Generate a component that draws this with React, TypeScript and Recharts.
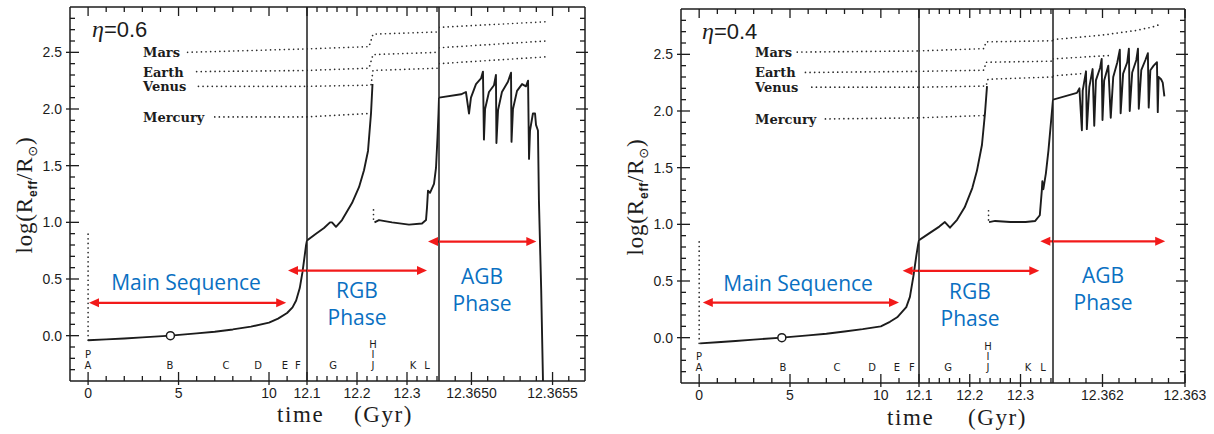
import React from 'react';
import { ComposedChart, Line, XAxis, YAxis, ReferenceLine, ReferenceDot } from 'recharts';

type P = { t: number; r: number };

// ---------------- shared axes ----------------
const Y_DOMAIN: [number, number] = [-0.4, 2.9];
const Y_TICKS = [-0.3, -0.2, -0.1, 0, 0.1, 0.2, 0.3, 0.4, 0.5, 0.6, 0.7, 0.8, 0.9, 1, 1.1, 1.2, 1.3, 1.4, 1.5, 1.6, 1.7, 1.8, 1.9, 2, 2.1, 2.2, 2.3, 2.4, 2.5, 2.6, 2.7, 2.8];
const Y_MAJOR = [0, 0.5, 1, 1.5, 2, 2.5];

const MS_DOMAIN: [number, number] = [-1, 12.1];
const MS_TICKS = [0, 1, 2, 3, 4, 5, 6, 7, 8, 9, 10, 11];
const MS_MAJOR = [0, 5, 10];

const RGB_DOMAIN: [number, number] = [12.1, 12.364];
const RGB_TICKS = [12.1, 12.12, 12.14, 12.16, 12.18, 12.2, 12.22, 12.24, 12.26, 12.28, 12.3, 12.32, 12.34, 12.36];
const RGB_MAJOR = [12.1, 12.2, 12.3];

const AGB06_DOMAIN: [number, number] = [12.3648, 12.3657];
const AGB06_TICKS = [12.3649, 12.365, 12.3651, 12.3652, 12.3653, 12.3654, 12.3655, 12.3656];
const AGB06_MAJOR = [12.365, 12.3655];

const AGB04_DOMAIN: [number, number] = [12.3614, 12.363];
const AGB04_TICKS = [12.3616, 12.3618, 12.362, 12.3622, 12.3624, 12.3626, 12.3628, 12.363];
const AGB04_MAJOR = [12.362, 12.363];

// ---------------- η = 0.6 panel ----------------
const MS_06: P[] = [
  { t: 0, r: -0.04 }, { t: 1, r: -0.033 }, { t: 2, r: -0.025 }, { t: 3, r: -0.015 }, { t: 4.55, r: 0 },
  { t: 6, r: 0.02 }, { t: 7, r: 0.035 }, { t: 8, r: 0.055 }, { t: 9, r: 0.08 }, { t: 10, r: 0.115 },
  { t: 10.5, r: 0.15 }, { t: 11, r: 0.2 }, { t: 11.3, r: 0.25 }, { t: 11.5, r: 0.31 }, { t: 11.7, r: 0.42 },
  { t: 11.85, r: 0.56 }, { t: 11.95, r: 0.68 }, { t: 12.05, r: 0.8 }, { t: 12.1, r: 0.84 },
];
const PREMS_06: P[] = [{ t: 0, r: -0.04 }, { t: 0, r: 0.9 }];
const RGB_RISE_06: P[] = [
  { t: 12.1, r: 0.84 }, { t: 12.118, r: 0.9 }, { t: 12.134, r: 0.95 }, { t: 12.146, r: 1.0 }, { t: 12.15, r: 1.0 },
  { t: 12.158, r: 0.96 }, { t: 12.17, r: 1.02 }, { t: 12.19, r: 1.17 }, { t: 12.204, r: 1.31 }, { t: 12.214, r: 1.46 },
  { t: 12.222, r: 1.63 }, { t: 12.228, r: 1.96 }, { t: 12.231, r: 2.22 },
];
const RGB_GAP_06: P[] = [{ t: 12.233, r: 1.11 }, { t: 12.233, r: 0.99 }];
const RGB_HB_06: P[] = [
  { t: 12.235, r: 1.0 }, { t: 12.244, r: 1.02 }, { t: 12.27, r: 1.0 }, { t: 12.304, r: 0.98 }, { t: 12.33, r: 0.99 },
  { t: 12.338, r: 1.02 }, { t: 12.34, r: 1.13 }, { t: 12.342, r: 1.28 }, { t: 12.346, r: 1.26 }, { t: 12.354, r: 1.34 },
  { t: 12.358, r: 1.48 }, { t: 12.361, r: 1.75 }, { t: 12.363, r: 1.96 }, { t: 12.364, r: 2.1 },
];
const AGB_06: P[] = [
  { t: 12.3648, r: 2.1 }, { t: 12.364936, r: 2.13 }, { t: 12.364966, r: 2.15 }, { t: 12.364985, r: 1.96 },
  { t: 12.364997, r: 2.1 }, { t: 12.365028, r: 2.22 }, { t: 12.365059, r: 2.27 }, { t: 12.365071, r: 2.33 },
  { t: 12.365077, r: 1.73 }, { t: 12.365084, r: 2.0 }, { t: 12.365108, r: 2.15 }, { t: 12.365139, r: 2.21 },
  { t: 12.365151, r: 2.3 }, { t: 12.365154, r: 1.7 }, { t: 12.365164, r: 1.99 }, { t: 12.365188, r: 2.15 },
  { t: 12.365225, r: 2.24 }, { t: 12.365244, r: 2.32 }, { t: 12.365247, r: 1.71 }, { t: 12.365256, r: 2.0 },
  { t: 12.365281, r: 2.16 }, { t: 12.365312, r: 2.22 }, { t: 12.365336, r: 2.2 }, { t: 12.365349, r: 2.25 },
  { t: 12.365355, r: 1.56 }, { t: 12.365361, r: 1.81 }, { t: 12.365379, r: 1.96 }, { t: 12.365392, r: 1.96 },
  { t: 12.365398, r: 1.86 }, { t: 12.36541, r: 1.81 }, { t: 12.365416, r: 1.19 }, { t: 12.36543, r: 0.4 },
  { t: 12.365441, r: -0.4 },
];
const MARS_06 = {
  ms: [{ t: 5.5, r: 2.5 }, { t: 12.1, r: 2.53 }],
  rgb: [{ t: 12.1, r: 2.53 }, { t: 12.224, r: 2.55 }, { t: 12.232, r: 2.66 }, { t: 12.364, r: 2.68 }],
  agb: [{ t: 12.3648, r: 2.72 }, { t: 12.36546, r: 2.77 }],
};
const EARTH_06 = {
  ms: [{ t: 6.0, r: 2.33 }, { t: 12.1, r: 2.34 }],
  rgb: [{ t: 12.1, r: 2.34 }, { t: 12.224, r: 2.36 }, { t: 12.232, r: 2.48 }, { t: 12.364, r: 2.5 }],
  agb: [{ t: 12.3648, r: 2.54 }, { t: 12.36546, r: 2.6 }],
};
const VENUS_06 = {
  ms: [{ t: 6.1, r: 2.2 }, { t: 12.1, r: 2.2 }],
  rgb: [{ t: 12.1, r: 2.2 }, { t: 12.228, r: 2.21 }, { t: 12.232, r: 2.34 }, { t: 12.364, r: 2.36 }],
  agb: [{ t: 12.3648, r: 2.4 }, { t: 12.36546, r: 2.46 }],
};
const MERCURY_06 = {
  ms: [{ t: 7.0, r: 1.93 }, { t: 12.1, r: 1.93 }],
  rgb: [{ t: 12.1, r: 1.93 }, { t: 12.224, r: 1.96 }],
  agb: [] as P[],
};
const LETTERS_06 = [
  { seg: 'ms', t: 0, r: -0.195, c: 'P' }, { seg: 'ms', t: 0, r: -0.29, c: 'A' }, { seg: 'ms', t: 4.5, r: -0.29, c: 'B' },
  { seg: 'ms', t: 7.6, r: -0.29, c: 'C' }, { seg: 'ms', t: 9.4, r: -0.29, c: 'D' }, { seg: 'ms', t: 10.9, r: -0.29, c: 'E' },
  { seg: 'ms', t: 11.6, r: -0.29, c: 'F' }, { seg: 'rgb', t: 12.152, r: -0.29, c: 'G' }, { seg: 'rgb', t: 12.232, r: -0.105, c: 'H' },
  { seg: 'rgb', t: 12.232, r: -0.195, c: 'I' }, { seg: 'rgb', t: 12.232, r: -0.29, c: 'J' }, { seg: 'rgb', t: 12.312, r: -0.29, c: 'K' },
  { seg: 'rgb', t: 12.341, r: -0.29, c: 'L' },
];
const PHASES_06 = [
  { seg: 'ms', t: 5.41, r: 0.4, text: 'Main Sequence' },
  { seg: 'rgb', t: 12.2, r: 0.33, text: 'RGB' }, { seg: 'rgb', t: 12.2, r: 0.09, text: 'Phase' },
  { seg: 'agb', t: 12.365065, r: 0.46, text: 'AGB' }, { seg: 'agb', t: 12.365065, r: 0.22, text: 'Phase' },
];
const ARROWS_06 = [
  { seg: 'ms', from: 0.05, to: 10.95, r: 0.29, heads: 'both' },
  { seg: 'ms', from: 11.05, to: 12.1, r: 0.574, heads: 'start' },
  { seg: 'rgb', from: 12.1, to: 12.34, r: 0.574, heads: 'end' },
  { seg: 'rgb', from: 12.342, to: 12.364, r: 0.83, heads: 'start' },
  { seg: 'agb', from: 12.3648, to: 12.3654, r: 0.83, heads: 'end' },
];

// ---------------- η = 0.4 panel ----------------
const MS_04: P[] = [
  { t: 0.05, r: -0.05 }, { t: 1, r: -0.04 }, { t: 2, r: -0.03 }, { t: 3, r: -0.017 }, { t: 4.55, r: 0 },
  { t: 6, r: 0.02 }, { t: 7, r: 0.035 }, { t: 8, r: 0.055 }, { t: 9, r: 0.075 }, { t: 10, r: 0.1 },
  { t: 10.5, r: 0.14 }, { t: 10.9, r: 0.18 }, { t: 11.4, r: 0.27 }, { t: 11.6, r: 0.36 }, { t: 11.8, r: 0.55 },
  { t: 11.95, r: 0.72 }, { t: 12.05, r: 0.82 }, { t: 12.1, r: 0.86 },
];
const PREMS_04: P[] = [{ t: 0, r: -0.05 }, { t: 0, r: 0.88 }];
const RGB_RISE_04: P[] = [
  { t: 12.1, r: 0.86 }, { t: 12.12, r: 0.92 }, { t: 12.14, r: 0.98 }, { t: 12.151, r: 1.02 }, { t: 12.161, r: 0.97 },
  { t: 12.175, r: 1.04 }, { t: 12.19, r: 1.15 }, { t: 12.205, r: 1.32 }, { t: 12.214, r: 1.47 }, { t: 12.224, r: 1.7 },
  { t: 12.23, r: 1.98 }, { t: 12.234, r: 2.22 },
];
const RGB_GAP_04: P[] = [{ t: 12.237, r: 1.12 }, { t: 12.237, r: 1.0 }];
const RGB_HB_04: P[] = [
  { t: 12.238, r: 1.02 }, { t: 12.25, r: 1.03 }, { t: 12.28, r: 1.02 }, { t: 12.31, r: 1.02 }, { t: 12.329, r: 1.03 },
  { t: 12.338, r: 1.08 }, { t: 12.342, r: 1.3 }, { t: 12.343, r: 1.38 }, { t: 12.345, r: 1.31 }, { t: 12.35, r: 1.45 },
  { t: 12.355, r: 1.65 }, { t: 12.36, r: 1.9 }, { t: 12.364, r: 2.1 },
];
const AGB_04: P[] = [
  { t: 12.3614, r: 2.1 }, { t: 12.36169, r: 2.16 }, { t: 12.36172, r: 2.2 }, { t: 12.36175, r: 1.83 },
  { t: 12.36176, r: 2.18 }, { t: 12.3618, r: 2.35 }, { t: 12.36181, r: 1.84 }, { t: 12.36184, r: 2.21 },
  { t: 12.36188, r: 2.37 }, { t: 12.3619, r: 1.87 }, { t: 12.36192, r: 2.27 }, { t: 12.36197, r: 2.38 },
  { t: 12.36199, r: 2.46 }, { t: 12.362, r: 1.92 }, { t: 12.36202, r: 2.27 }, { t: 12.36207, r: 2.4 },
  { t: 12.3621, r: 1.94 }, { t: 12.36213, r: 2.3 }, { t: 12.36218, r: 2.43 }, { t: 12.36221, r: 2.54 },
  { t: 12.36222, r: 1.98 }, { t: 12.36225, r: 2.33 }, { t: 12.3623, r: 2.43 }, { t: 12.36232, r: 2.55 },
  { t: 12.36233, r: 2.0 }, { t: 12.36236, r: 2.34 }, { t: 12.36241, r: 2.45 }, { t: 12.36243, r: 2.55 },
  { t: 12.36244, r: 2.02 }, { t: 12.36247, r: 2.36 }, { t: 12.36252, r: 2.45 }, { t: 12.36255, r: 2.51 },
  { t: 12.36256, r: 2.03 }, { t: 12.36258, r: 2.36 }, { t: 12.36262, r: 2.4 }, { t: 12.36266, r: 2.43 },
  { t: 12.36267, r: 1.99 }, { t: 12.36268, r: 2.3 }, { t: 12.36271, r: 2.28 }, { t: 12.36273, r: 2.25 },
  { t: 12.36275, r: 2.13 },
];
const MARS_04 = {
  ms: [{ t: 5.4, r: 2.52 }, { t: 12.1, r: 2.53 }],
  rgb: [{ t: 12.1, r: 2.53 }, { t: 12.228, r: 2.55 }, { t: 12.232, r: 2.61 }, { t: 12.364, r: 2.62 }],
  agb: [{ t: 12.3614, r: 2.63 }, { t: 12.362, r: 2.67 }, { t: 12.3624, r: 2.71 }, { t: 12.3626, r: 2.74 }, { t: 12.36272, r: 2.77 }],
};
const EARTH_04 = {
  ms: [{ t: 5.85, r: 2.34 }, { t: 12.1, r: 2.35 }],
  rgb: [{ t: 12.1, r: 2.35 }, { t: 12.228, r: 2.36 }, { t: 12.232, r: 2.43 }, { t: 12.364, r: 2.44 }],
  agb: [{ t: 12.3614, r: 2.46 }, { t: 12.3621, r: 2.49 }],
};
const VENUS_04 = {
  ms: [{ t: 6.2, r: 2.21 }, { t: 12.1, r: 2.21 }],
  rgb: [{ t: 12.1, r: 2.21 }, { t: 12.232, r: 2.22 }, { t: 12.236, r: 2.28 }, { t: 12.364, r: 2.3 }],
  agb: [{ t: 12.3614, r: 2.31 }, { t: 12.36176, r: 2.33 }],
};
const MERCURY_04 = {
  ms: [{ t: 6.95, r: 1.93 }, { t: 12.1, r: 1.94 }],
  rgb: [{ t: 12.1, r: 1.94 }, { t: 12.23, r: 1.96 }],
  agb: [] as P[],
};
const LETTERS_04 = [
  { seg: 'ms', t: 0, r: -0.195, c: 'P' }, { seg: 'ms', t: 0, r: -0.29, c: 'A' }, { seg: 'ms', t: 4.6, r: -0.29, c: 'B' },
  { seg: 'ms', t: 7.6, r: -0.29, c: 'C' }, { seg: 'ms', t: 9.5, r: -0.29, c: 'D' }, { seg: 'ms', t: 10.9, r: -0.29, c: 'E' },
  { seg: 'ms', t: 11.7, r: -0.29, c: 'F' }, { seg: 'rgb', t: 12.157, r: -0.29, c: 'G' }, { seg: 'rgb', t: 12.236, r: -0.105, c: 'H' },
  { seg: 'rgb', t: 12.236, r: -0.195, c: 'I' }, { seg: 'rgb', t: 12.236, r: -0.29, c: 'J' }, { seg: 'rgb', t: 12.315, r: -0.29, c: 'K' },
  { seg: 'rgb', t: 12.345, r: -0.29, c: 'L' },
];
const PHASES_04 = [
  { seg: 'ms', t: 5.44, r: 0.415, text: 'Main Sequence' },
  { seg: 'rgb', t: 12.2, r: 0.34, text: 'RGB' }, { seg: 'rgb', t: 12.2, r: 0.1, text: 'Phase' },
  { seg: 'agb', t: 12.362, r: 0.48, text: 'AGB' }, { seg: 'agb', t: 12.362, r: 0.24, text: 'Phase' },
];
const ARROWS_04 = [
  { seg: 'ms', from: 0.2, to: 11.0, r: 0.31, heads: 'both' },
  { seg: 'ms', from: 11.2, to: 12.1, r: 0.59, heads: 'start' },
  { seg: 'rgb', from: 12.1, to: 12.337, r: 0.59, heads: 'end' },
  { seg: 'rgb', from: 12.339, to: 12.364, r: 0.85, heads: 'start' },
  { seg: 'agb', from: 12.3614, to: 12.36276, r: 0.85, heads: 'end' },
];

const PLANET_NAMES = ['Mars', 'Earth', 'Venus', 'Mercury'];
const SUN: P = { t: 4.55, r: 0 };

// ---------------- styling ----------------
const H = 434;
const INK = '#1c1c1c';
const RED = '#f21a1a';
const BLUE = '#0a70c2';
const TICK_FONT = '"Liberation Sans", Arial, sans-serif';
const SERIF = '"Liberation Serif", "Times New Roman", serif';
const FRAME = { stroke: INK, strokeWidth: 1.5 };
const PL = 70;
const PR = 40;
const BOT_H = 30;
const TOP_H = 4;
const LEFT_W = 40;
const RIGHT_W = 10;

const near = (a: number, list: number[]) => list.some((m) => Math.abs(m - a) < 1e-7);

function bottomTick(major: number[], fmt: (v: number) => string) {
  return (p: any) => {
    const v = Number(p.payload?.value);
    const big = near(v, major);
    return (
      <g>
        <line x1={p.x} x2={p.x} y1={p.y + (big ? 4 : 0)} y2={p.y - (big ? 9 : 5)} stroke={INK} strokeWidth={1.3} />
        {big ? (
          <text x={p.x} y={p.y + 17} textAnchor="middle" fontFamily={TICK_FONT} fontSize={14} fill={INK}>
            {fmt(v)}
          </text>
        ) : null}
      </g>
    );
  };
}
function topTick(major: number[]) {
  return (p: any) => {
    const v = Number(p.payload?.value);
    const big = near(v, major);
    return <line x1={p.x} x2={p.x} y1={p.y} y2={p.y + (big ? 9 : 5)} stroke={INK} strokeWidth={1.3} />;
  };
}
const leftTick = (p: any) => {
  const v = Number(p.payload?.value);
  const big = near(v, Y_MAJOR);
  return (
    <g>
      <line x1={p.x - (big ? 4 : 0)} x2={p.x + (big ? 9 : 5)} y1={p.y} y2={p.y} stroke={INK} strokeWidth={1.3} />
      {big ? (
        <text x={p.x - 8} y={p.y} dy="0.36em" textAnchor="end" fontFamily={TICK_FONT} fontSize={14} fill={INK}>
          {v.toFixed(1)}
        </text>
      ) : null}
    </g>
  );
};
const rightTick = (p: any) => {
  const v = Number(p.payload?.value);
  const big = near(v, Y_MAJOR);
  return <line x1={p.x + (big ? 3 : 0)} x2={p.x - (big ? 9 : 5)} y1={p.y} y2={p.y} stroke={INK} strokeWidth={1.3} />;
};

const solid = (key: string, data: P[]) => (
  <Line key={key} data={data} dataKey="r" xAxisId="b" yAxisId="y" type="linear" dot={false} activeDot={false}
    stroke={INK} strokeWidth={1.9} strokeLinejoin="round" isAnimationActive={false} />
);
const dotted = (key: string, data: P[]) => (
  <Line key={key} data={data} dataKey="r" xAxisId="b" yAxisId="y" type="linear" dot={false} activeDot={false}
    stroke="#2a2a2a" strokeWidth={1.7} strokeDasharray="0.01 4.6" strokeLinecap="round" isAnimationActive={false} />
);

function arrowShape(heads: string) {
  return (p: any) => {
    const x1 = Math.min(p.x1, p.x2);
    const x2 = Math.max(p.x1, p.x2);
    const y = p.y1;
    const L = 10;
    const W = 4.5;
    const hs = heads === 'start' || heads === 'both';
    const he = heads === 'end' || heads === 'both';
    return (
      <g>
        <line x1={hs ? x1 + L - 1 : x1} x2={he ? x2 - L + 1 : x2} y1={y} y2={y} stroke={RED} strokeWidth={2.2} />
        {hs ? <polygon points={`${x1},${y} ${x1 + L},${y - W} ${x1 + L},${y + W}`} fill={RED} /> : null}
        {he ? <polygon points={`${x2},${y} ${x2 - L},${y - W} ${x2 - L},${y + W}`} fill={RED} /> : null}
      </g>
    );
  };
}

const textDot = (key: string, t: number, r: number, text: string, attrs: any) => (
  <ReferenceDot key={key} xAxisId="b" yAxisId="y" x={t} y={r} r={0} ifOverflow="visible"
    shape={(p: any) => (
      <text x={Math.round(p.cx)} y={Math.round(p.cy)} {...attrs}>
        {text}
      </text>
    )}
  />
);

function annotations(seg: string, cfg: any) {
  const out: any[] = [];
  cfg.arrows.filter((a: any) => a.seg === seg).forEach((a: any, i: number) => {
    out.push(
      <ReferenceLine key={`ar-${seg}-${i}`} xAxisId="b" yAxisId="y" ifOverflow="visible"
        segment={[{ x: a.from, y: a.r }, { x: a.to, y: a.r }]} shape={arrowShape(a.heads)} />
    );
  });
  cfg.letters.filter((l: any) => l.seg === seg).forEach((l: any, i: number) => {
    out.push(textDot(`lt-${seg}-${i}`, l.t, l.r, l.c, {
      textAnchor: 'middle', fontFamily: '"DejaVu Sans", sans-serif', fontSize: 10, fill: INK,
    }));
  });
  cfg.phases.filter((ph: any) => ph.seg === seg).forEach((ph: any, i: number) => {
    out.push(textDot(`ph-${seg}-${i}`, ph.t, ph.r, ph.text, {
      textAnchor: 'middle', fontFamily: '"Open Sans", sans-serif', fontSize: 21, fill: BLUE,
    }));
  });
  return out;
}

function Panel({ cfg }: { cfg: any }) {
  const { left, d1, d2, right, top, bottom } = cfg;
  const pos = (x0: number): React.CSSProperties => ({ position: 'absolute', left: x0 - PL, top: 0 });
  const mTop = top - TOP_H;
  const mBot = H - bottom - BOT_H;
  const xAxes = (domain: [number, number], ticks: number[], major: number[], fmt: (v: number) => string) => [
    <XAxis key="xb" xAxisId="b" type="number" dataKey="t" domain={domain} allowDataOverflow ticks={ticks} interval={0}
      height={BOT_H} tickSize={0} tickMargin={0} tickLine={false} axisLine={FRAME} tick={bottomTick(major, fmt)} />,
    <XAxis key="xt" xAxisId="t" orientation="top" type="number" dataKey="t" domain={domain} allowDataOverflow ticks={ticks}
      interval={0} height={TOP_H} tickSize={0} tickMargin={0} tickLine={false} axisLine={FRAME} tick={topTick(major)} />,
  ];
  const planets = cfg.planets as any[];
  return (
    <>
      <div style={pos(left)}>
        <ComposedChart width={d1 - left + PL + PR} height={H}
          margin={{ top: mTop, bottom: mBot, left: PL - LEFT_W, right: PR }}>
          {xAxes(MS_DOMAIN, MS_TICKS, MS_MAJOR, (v) => String(v))}
          <YAxis yAxisId="y" type="number" domain={Y_DOMAIN} allowDataOverflow ticks={Y_TICKS} interval={0} width={LEFT_W}
            tickSize={0} tickMargin={0} tickLine={false} axisLine={FRAME} tick={leftTick} />
          {planets.map((pl, i) => dotted(`pms-${i}`, pl.ms))}
          {planets.map((pl, i) =>
            textDot(`pn-${i}`, 3.05, pl.ms[0].r, PLANET_NAMES[i], {
              textAnchor: 'start', dominantBaseline: 'central', fontFamily: '"DejaVu Serif", serif',
              fontWeight: 'bold', fontSize: 13, fill: INK,
            })
          )}
          {dotted('prems', cfg.prems)}
          {solid('ms', cfg.ms)}
          <ReferenceDot xAxisId="b" yAxisId="y" x={SUN.t} y={SUN.r} r={4} fill="#fff" stroke={INK} strokeWidth={1.5} />
          {annotations('ms', cfg)}
        </ComposedChart>
      </div>
      <div style={pos(d1)}>
        <ComposedChart width={d2 - d1 + PL + PR} height={H}
          margin={{ top: mTop, bottom: mBot, left: PL, right: PR }}>
          {xAxes(RGB_DOMAIN, RGB_TICKS, RGB_MAJOR, (v) => v.toFixed(1))}
          <YAxis yAxisId="y" type="number" domain={Y_DOMAIN} allowDataOverflow hide />
          <ReferenceLine xAxisId="b" yAxisId="y" x={RGB_DOMAIN[0]} ifOverflow="visible" stroke={INK} strokeWidth={1.5} />
          {planets.map((pl, i) => dotted(`prgb-${i}`, pl.rgb))}
          {solid('rise', cfg.rise)}
          {dotted('gap', cfg.gap)}
          {solid('hb', cfg.hb)}
          {annotations('rgb', cfg)}
        </ComposedChart>
      </div>
      <div style={pos(d2)}>
        <ComposedChart width={right - d2 + PL + PR} height={H}
          margin={{ top: mTop, bottom: mBot, left: PL, right: PR - RIGHT_W }}>
          {xAxes(cfg.agbDomain, cfg.agbTicks, cfg.agbMajor, cfg.agbFmt)}
          <YAxis yAxisId="y" orientation="right" type="number" domain={Y_DOMAIN} allowDataOverflow ticks={Y_TICKS}
            interval={0} width={RIGHT_W} tickSize={0} tickMargin={0} tickLine={false} axisLine={FRAME} tick={rightTick} />
          <ReferenceLine xAxisId="b" yAxisId="y" x={cfg.agbDomain[0]} ifOverflow="visible" stroke={INK} strokeWidth={1.5} />
          {planets.filter((pl) => pl.agb.length > 0).map((pl, i) => dotted(`pagb-${i}`, pl.agb))}
          {solid('agb', cfg.agb)}
          {annotations('agb', cfg)}
        </ComposedChart>
      </div>
    </>
  );
}

const CFG_06 = {
  left: 70, d1: 307, d2: 439, right: 585, top: 7, bottom: 381,
  agbDomain: AGB06_DOMAIN, agbTicks: AGB06_TICKS, agbMajor: AGB06_MAJOR, agbFmt: (v: number) => v.toFixed(4),
  ms: MS_06, prems: PREMS_06, rise: RGB_RISE_06, gap: RGB_GAP_06, hb: RGB_HB_06, agb: AGB_06,
  planets: [MARS_06, EARTH_06, VENUS_06, MERCURY_06],
  letters: LETTERS_06, phases: PHASES_06, arrows: ARROWS_06,
};
const CFG_04 = {
  left: 681, d1: 919, d2: 1053, right: 1185, top: 9, bottom: 383,
  agbDomain: AGB04_DOMAIN, agbTicks: AGB04_TICKS, agbMajor: AGB04_MAJOR, agbFmt: (v: number) => v.toFixed(3),
  ms: MS_04, prems: PREMS_04, rise: RGB_RISE_04, gap: RGB_GAP_04, hb: RGB_HB_04, agb: AGB_04,
  planets: [MARS_04, EARTH_04, VENUS_04, MERCURY_04],
  letters: LETTERS_04, phases: PHASES_04, arrows: ARROWS_04,
};

function YTitle({ x, y }: { x: number; y: number }) {
  return (
    <text transform={`translate(${x},${y}) rotate(-90)`} textAnchor="middle" fontFamily={SERIF} fontSize={23} fill={INK} letterSpacing={0.8}>
      log(R
      <tspan fontFamily={TICK_FONT} fontWeight="bold" fontSize={12} dy={5}>eff</tspan>
      <tspan dy={-5}>/R</tspan>
      <tspan fontFamily='"DejaVu Sans", sans-serif' fontSize={13} dy={5}>⊙</tspan>
      <tspan dy={-5}>)</tspan>
    </text>
  );
}

export default function App() {
  return (
    <div style={{ position: 'absolute', left: 0, top: 0, width: 1214, height: H, background: '#fff', overflow: 'hidden' }}>
      <Panel cfg={CFG_06} />
      <Panel cfg={CFG_04} />
      <svg width={1214} height={H} style={{ position: 'absolute', left: 0, top: 0, pointerEvents: 'none' }}>
        <YTitle x={32} y={195} />
        <YTitle x={643} y={197} />
        <text x={277} y={422} fontFamily={SERIF} fontSize={23} letterSpacing={1.6} fill={INK}>time</text>
        <text x={354} y={422} fontFamily={SERIF} fontSize={23} letterSpacing={1.6} fill={INK}>(Gyr)</text>
        <text x={887} y={425} fontFamily={SERIF} fontSize={23} letterSpacing={1.6} fill={INK}>time</text>
        <text x={968} y={425} fontFamily={SERIF} fontSize={23} letterSpacing={1.6} fill={INK}>(Gyr)</text>
        <text x={92} y={37} fontSize={22} fill={INK}>
          <tspan fontFamily={SERIF} fontStyle="italic" fontSize={24}>η</tspan>
          <tspan fontFamily={TICK_FONT}>=0.6</tspan>
        </text>
        <text x={702} y={39} fontSize={22} fill={INK}>
          <tspan fontFamily={SERIF} fontStyle="italic" fontSize={24}>η</tspan>
          <tspan fontFamily={TICK_FONT}>=0.4</tspan>
        </text>
      </svg>
    </div>
  );
}
